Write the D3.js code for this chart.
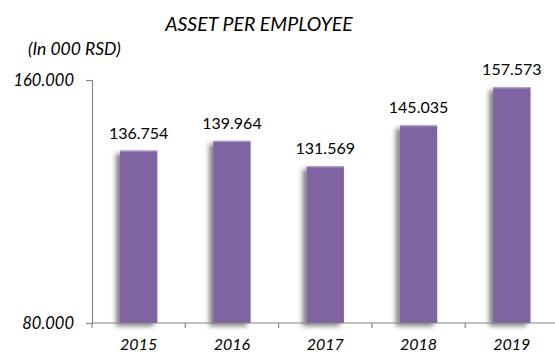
<!DOCTYPE html>
<html>
<head>
<meta charset="utf-8">
<script src="https://cdn.jsdelivr.net/npm/d3@7"></script>
<style>
  html, body { margin: 0; padding: 0; background: #fff; }
  svg { display: block; }
  text { font-family: Lato, "Open Sans", sans-serif; fill: #000; }
</style>
</head>
<body>
<svg id="chart" width="555" height="352"></svg>
<script>
// Asset per employee, in thousands of RSD
const years = ["2015", "2016", "2017", "2018", "2019"];
const values = [136.754, 139.964, 131.569, 145.035, 157.573];
const yTicks = [80, 160];

const svg = d3.select("#chart");
const W = 555, H = 352;
// the plot runs slightly past the right edge, so its last boundary tick is clipped
const plot = { left: 92, right: 558.5, top: 80, bottom: 323 };

const x = d3.scaleBand()
  .domain(years)
  .range([plot.left, plot.right])
  .paddingInner(0.6)
  .paddingOuter(0.3);

const y = d3.scaleLinear()
  .domain([80, 160])
  .range([plot.bottom, plot.top]);

const fmt = v => v.toFixed(3);

// soft shadow behind the bars
const defs = svg.append("defs");
const f = defs.append("filter").attr("id", "shadow")
  .attr("x", "-50%").attr("y", "-10%").attr("width", "200%").attr("height", "130%");
f.append("feDropShadow")
  .attr("dx", -4).attr("dy", 3).attr("stdDeviation", 2.5)
  .attr("flood-color", "#000").attr("flood-opacity", 0.5);

// bars
svg.append("g").selectAll("rect")
  .data(values)
  .join("rect")
  .attr("x", (d, i) => x(years[i]))
  .attr("y", d => y(d))
  .attr("width", x.bandwidth())
  .attr("height", d => y(80) - y(d))
  .attr("fill", "#8064A2")
  .attr("filter", "url(#shadow)");

// thin light edge along the top of each bar
svg.append("g").selectAll("line")
  .data(values)
  .join("line")
  .attr("x1", (d, i) => x(years[i]))
  .attr("x2", (d, i) => x(years[i]) + x.bandwidth())
  .attr("y1", d => y(d) + 0.5)
  .attr("y2", d => y(d) + 0.5)
  .attr("stroke", "#B6A4CC")
  .attr("stroke-width", 1);

// value labels
svg.append("g").selectAll("text")
  .data(values)
  .join("text")
  .attr("x", (d, i) => x(years[i]) + x.bandwidth() / 2)
  .attr("y", d => y(d) - 12)
  .attr("text-anchor", "middle")
  .attr("font-size", 16)
  .text(fmt);

// y axis
const yAxis = svg.append("g")
  .attr("transform", `translate(${plot.left},0)`)
  .call(d3.axisLeft(y).tickValues(yTicks).tickSize(6).tickPadding(12).tickFormat(fmt));
yAxis.select(".domain").attr("stroke", "#868686").attr("stroke-width", 1.2);
yAxis.selectAll(".tick line").attr("stroke", "#868686").attr("stroke-width", 1.2);
yAxis.selectAll(".tick text")
  .attr("font-size", 16.5).attr("font-style", "italic")
  .attr("font-family", "Lato, 'Open Sans', sans-serif").attr("fill", "#000");

// x axis with ticks at category boundaries
const xAxisG = svg.append("g")
  .attr("transform", `translate(0,${y(80)})`);
xAxisG.append("line")
  .attr("x1", plot.left).attr("x2", plot.right)
  .attr("stroke", "#868686").attr("stroke-width", 1.2);
const step = x.step();
const bounds = d3.range(years.length + 1).map(i => plot.left + i * step);
xAxisG.selectAll(".bt")
  .data(bounds)
  .join("line")
  .attr("class", "bt")
  .attr("x1", d => d).attr("x2", d => d)
  .attr("y1", 0).attr("y2", 5)
  .attr("stroke", "#868686").attr("stroke-width", 1.2);
xAxisG.selectAll(".yl")
  .data(years)
  .join("text")
  .attr("class", "yl")
  .attr("x", d => x(d) + x.bandwidth() / 2)
  .attr("y", 26.5)
  .attr("text-anchor", "middle")
  .attr("font-size", 16)
  .attr("font-style", "italic")
  .text(d => d);

// titles
svg.append("text")
  .attr("x", 259).attr("y", 31)
  .attr("text-anchor", "middle")
  .attr("font-size", 19.5).attr("font-style", "italic")
  .text("ASSET PER EMPLOYEE");
svg.append("text")
  .attr("x", 28).attr("y", 55)
  .attr("font-size", 17.5).attr("font-style", "italic")
  .text("(In 000 RSD)");
</script>
</body>
</html>
